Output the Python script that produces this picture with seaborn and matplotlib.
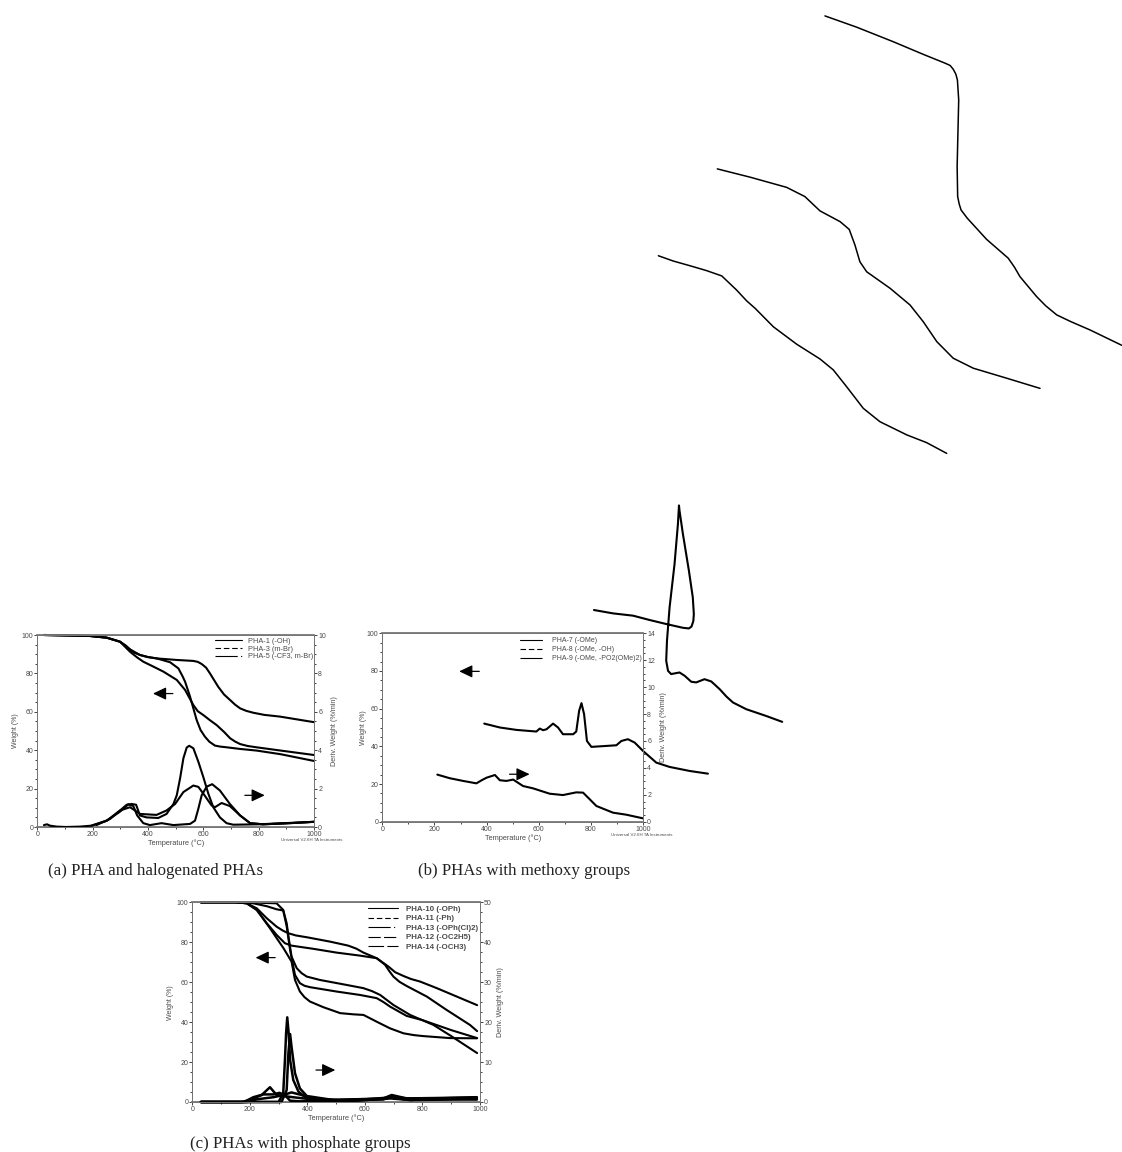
import matplotlib
matplotlib.use('Agg')
import matplotlib.pyplot as plt
from matplotlib.lines import Line2D
import seaborn as sns

# panel (a) weight curves
a1_t = [25, 100, 190, 251, 299, 320, 335, 350, 371, 400, 432, 504, 564, 580, 594, 610, 624, 654, 675, 697, 715, 733, 755, 781, 820, 877, 1000]
a1_w = [100, 99.8, 99.5, 98.6, 96.5, 94.5, 92.5, 90.8, 89.6, 88.5, 87.8, 87, 86.5, 86, 84.9, 83, 80, 73, 69, 66.1, 63.7, 61.8, 60.5, 59.5, 58.4, 57.5, 54.6]
a3_t = [25, 100, 190, 251, 299, 335, 360, 383, 420, 456, 504, 534, 564, 580, 600, 625, 648, 675, 697, 715, 733, 760, 793, 880, 1000]
a3_w = [100, 99.8, 99.5, 98.6, 96.5, 91.3, 88.4, 86.1, 83.5, 80.9, 76.6, 71.4, 63.5, 60.3, 58.3, 55.5, 53.1, 49.5, 46.2, 44.5, 43.2, 42.2, 41.5, 39.8, 37.5]
a5_t = [25, 100, 190, 251, 299, 335, 371, 400, 432, 480, 510, 525, 534, 552, 576, 590, 606, 622, 642, 660, 685, 730, 793, 880, 1000]
a5_w = [100, 99.8, 99.5, 98.6, 96.5, 92.5, 89.6, 88.5, 87.8, 85.8, 82.6, 78.5, 75.7, 67.9, 55.7, 50.5, 47, 44.4, 42.4, 41.9, 41.5, 40.7, 39.8, 37.9, 34.4]

# panel (a) derivative curves
ad1_t = [24, 35, 46, 70, 106, 154, 196, 251, 299, 311, 329, 347, 361, 383, 407, 449, 492, 552, 570, 582, 594, 612, 632, 660, 696, 733, 769, 817, 913, 1000]
ad1_d = [0.1, 0.14, 0.07, 0.02, 0, 0.02, 0.07, 0.33, 0.8, 0.95, 1.18, 1.09, 0.6, 0.2, 0.1, 0.2, 0.1, 0.16, 0.33, 0.95, 1.65, 2.1, 2.23, 1.9, 1.2, 0.6, 0.2, 0.14, 0.2, 0.27]
ad3_t = [196, 251, 299, 335, 353, 371, 431, 467, 498, 528, 564, 582, 600, 630, 642, 666, 696, 733, 769, 817, 913, 1000]
ad3_d = [0.07, 0.33, 0.86, 1.03, 0.86, 0.68, 0.63, 0.86, 1.2, 1.82, 2.16, 2.09, 1.74, 1.12, 1.03, 1.25, 1.09, 0.6, 0.2, 0.14, 0.2, 0.27]
ad5_t = [214, 263, 299, 323, 341, 357, 371, 395, 437, 467, 492, 504, 516, 528, 540, 549, 564, 582, 600, 618, 636, 660, 684, 708, 800, 1000]
ad5_d = [0.1, 0.42, 0.86, 1.16, 1.2, 1.16, 0.6, 0.5, 0.47, 0.68, 1.2, 1.65, 2.53, 3.58, 4.14, 4.23, 4.1, 3.4, 2.6, 1.74, 1.03, 0.5, 0.2, 0.12, 0.14, 0.27]

# panel (b) weight curves, they run well outside the frame
b7_t = [1698, 1820, 1960, 2075, 2159, 2178, 2190, 2200, 2206, 2211, 2208, 2205, 2207, 2213, 2220, 2244, 2318, 2401, 2425, 2446, 2510, 2545, 2587, 2640, 2715, 2836]
b7_w = [427.7, 421.7, 414.0, 407.3, 402.6, 401.4, 399.4, 396.8, 393.7, 383.1, 365.6, 347.7, 331.8, 327.8, 324.7, 320.3, 309.1, 299.1, 294.3, 289.3, 278.7, 273.8, 269.0, 265.5, 261.0, 252.9]
b8_t = [1285, 1411, 1551, 1621, 1679, 1756, 1791, 1813, 1832, 1858, 1948, 2024, 2075, 2127, 2190, 2267, 2395, 2523]
b8_w = [346.5, 342.1, 336.7, 331.8, 324.2, 318.5, 314.4, 306.1, 297.2, 291.9, 283.1, 274.3, 265.4, 254.8, 246.0, 240.7, 235.4, 230.0]
b9_t = [1059, 1116, 1180, 1244, 1302, 1359, 1398, 1430, 1500, 1590, 1679, 1730, 1781, 1845, 1909, 2012, 2088, 2165]
b9_w = [300.4, 297.6, 295.1, 292.5, 289.7, 282.2, 276.4, 272.5, 262.7, 253.4, 245.6, 239.8, 230.9, 219.4, 212.3, 205.3, 201.2, 195.5]

# panel (b) derivative curves
bd7_t = [812, 885, 962, 1025, 1089, 1153, 1176, 1186, 1193, 1195, 1191, 1176, 1153, 1140, 1138, 1134, 1121, 1102, 1092, 1089, 1096, 1108, 1140, 1160, 1185, 1204, 1236, 1262, 1294, 1320, 1345, 1396, 1472, 1534]
bd7_d = [15.73, 15.48, 15.31, 14.99, 14.69, 14.41, 14.36, 14.5, 14.9, 15.43, 16.67, 18.66, 21.39, 23.12, 23.5, 22.13, 19.15, 15.93, 13.45, 11.96, 11.21, 10.97, 11.09, 10.84, 10.4, 10.35, 10.59, 10.42, 9.85, 9.3, 8.86, 8.36, 7.86, 7.42]
bd8_t = [391, 451, 515, 591, 604, 617, 630, 655, 674, 693, 732, 744, 755, 764, 774, 785, 802, 859, 898, 917, 942, 968, 1000, 1051, 1102, 1179, 1249]
bd8_d = [7.29, 7.0, 6.82, 6.7, 6.92, 6.8, 6.87, 7.29, 7.0, 6.5, 6.5, 6.7, 8.24, 8.81, 7.99, 6.0, 5.56, 5.63, 5.68, 6.0, 6.13, 5.88, 5.26, 4.39, 4.07, 3.77, 3.57]
bd9_t = [211, 259, 310, 361, 381, 400, 432, 451, 476, 502, 540, 578, 642, 693, 744, 770, 796, 821, 885, 936, 1000]
bd9_d = [3.5, 3.23, 3.03, 2.85, 3.08, 3.27, 3.47, 3.08, 3.03, 3.13, 2.65, 2.48, 2.08, 1.98, 2.18, 2.16, 1.66, 1.17, 0.67, 0.52, 0.25]

# panel (c) weight curves
c10_t = [30, 150, 189, 224, 259, 293, 315, 334, 360, 398, 479, 542, 570, 595, 641, 682, 705, 734, 760, 792, 850, 990]
c10_w = [100, 100, 99.5, 97, 92, 87.8, 85.8, 84.5, 83.4, 82.5, 80.3, 78.3, 76.8, 74.8, 72, 67.8, 65, 63.1, 61.6, 60.3, 57, 48.5]
c11_t = [30, 150, 189, 224, 259, 293, 322, 345, 421, 502, 583, 641, 670, 685, 699, 720, 745, 815, 884, 965, 990]
c11_w = [100, 100, 99.5, 96.2, 89.5, 83.7, 79.5, 78.3, 76.7, 74.8, 73.3, 72, 68.7, 65.5, 62.8, 60.2, 58.1, 52.8, 46.1, 38.6, 35.5]
c13_t = [30, 200, 247, 293, 316, 328, 336, 345, 363, 380, 398, 444, 537, 595, 625, 653, 699, 757, 838, 900, 990]
c13_w = [100, 100, 99.7, 99.5, 96.2, 89.5, 81.2, 72.8, 67, 64.5, 62.8, 61.1, 58.6, 57, 55.5, 53.6, 48.6, 43.6, 38.6, 33, 24.5]
c12_t = [30, 150, 212, 260, 293, 316, 328, 340, 357, 374, 390, 409, 502, 583, 641, 665, 687, 745, 800, 900, 990]
c12_w = [100, 100, 99.5, 98, 96.5, 95.9, 88, 76, 63.6, 59.5, 58.2, 57.5, 55.3, 53.6, 52, 50, 47.8, 43.1, 41, 36, 32]
c14_t = [30, 150, 189, 224, 270, 317, 345, 357, 374, 390, 409, 455, 514, 560, 595, 641, 687, 734, 770, 803, 896, 989]
c14_w = [100, 100, 99.5, 96.2, 87, 77, 70.3, 61.1, 55.3, 52.5, 50.3, 47.5, 44.5, 43.9, 43.6, 40.2, 36.9, 34.4, 33.5, 33, 32, 31.9]

# panel (c) derivative curves
cd10_t = [30, 172, 200, 241, 270, 293, 316, 350, 398, 537, 664, 693, 757, 850, 989]
cd10_d = [0, 0, 0.5, 1.75, 3.7, 1.75, 1.5, 1.2, 0.8, 0.33, 0.7, 1.5, 0.5, 0.9, 1.1]
cd11_t = [30, 180, 212, 247, 282, 303, 322, 340, 374, 571, 687, 757, 989]
cd11_d = [0, 0, 1.2, 1.9, 1.9, 2.3, 1.7, 0.33, 0.17, 0.33, 0.9, 0.5, 0.67]
cd13_t = [30, 300, 316, 322, 326, 330, 335, 340, 351, 369, 398, 479, 571, 664, 693, 734, 850, 989]
cd13_d = [0, 0, 2.2, 10.5, 17.2, 21.2, 17.2, 10.5, 5.5, 2.6, 0.9, 0.33, 0.67, 0.67, 1.17, 0.67, 0.9, 0.67]
cd12_t = [30, 310, 328, 334, 340, 345, 357, 374, 398, 490, 664, 693, 745, 850, 989]
cd12_d = [0, 0, 3, 12.2, 17, 13.8, 7.2, 3.4, 1.5, 0.5, 0.9, 1.75, 0.9, 1, 1.2]
cd14_t = [30, 190, 224, 282, 316, 345, 380, 421, 571, 693, 803, 989]
cd14_d = [0, 0, 0.67, 1.2, 1.75, 2.4, 1.75, 0.67, 0.5, 1.17, 0.67, 0.83]

a_labels = ['PHA-1 (-OH)', 'PHA-3 (m-Br)', 'PHA-5 (-CF3, m-Br)']
b_labels = ['PHA-7 (-OMe)', 'PHA-8 (-OMe, -OH)', 'PHA-9 (-OMe, -PO2(OMe)2)']
c_labels = ['PHA-10 (-OPh)', 'PHA-11 (-Ph)', 'PHA-13 (-OPh(Cl)2)', 'PHA-12 (-OC2H5)', 'PHA-14 (-OCH3)']
captions = ['(a) PHA and halogenated PHAs', '(b) PHAs with methoxy groups', '(c) PHAs with phosphate groups']
styles = ['-', (0, (5, 2.5)), (0, (20, 3, 1, 40)), (0, (11, 3)), (0, (14, 3))]
TEXT = '#4a4a4a'

sns.set_style('white')
plt.rcParams['font.family'] = ['Liberation Sans', 'DejaVu Sans']

W_PX, H_PX = 1122, 1152
fig = plt.figure(figsize=(W_PX / 100, H_PX / 100), dpi=100)


def make_panel(box, d_max, d_step, pad_x=0.5, pad_w=2.5):
    left, top, right, bottom = box
    ax = fig.add_axes([left / W_PX, 1 - bottom / H_PX, (right - left) / W_PX, (bottom - top) / H_PX])
    ax2 = ax.twinx()
    ax.patch.set_alpha(0)
    for a in (ax, ax2):
        a.set_xlim(0, 1000)
        a.set_autoscale_on(False)
        for s in a.spines.values():
            s.set_linewidth(0.7)
            s.set_color('#777777')
    ax.spines['left'].set_color('black')
    ax.spines['top'].set_linewidth(1.3)
    ax.spines['bottom'].set_linewidth(1.3)
    ax.set_ylim(0, 100)
    ax2.set_ylim(0, d_max)
    ax.set_xticks(range(0, 1001, 200))
    ax.set_xticks(range(0, 1001, 100), minor=True)
    ax.set_yticks(range(0, 101, 20))
    ax.set_yticks(range(0, 101, 5), minor=True)
    ax2.set_yticks(range(0, d_max + 1, d_step))
    ax2.set_yticks([v * d_step / 4 for v in range(0, int(d_max * 4 / d_step) + 1)], minor=True)
    for a in (ax, ax2):
        a.tick_params(which='major', length=2.2, width=0.6, labelsize=5, pad=0.8, labelcolor=TEXT, color='#222222',
                      bottom=True, left=(a is ax), right=(a is ax2))
        a.tick_params(which='minor', length=1.2, width=0.6, color='#222222',
                      bottom=True, left=(a is ax), right=(a is ax2))
    ax.set_xlabel('Temperature (°C)', fontsize=5.3, color=TEXT, labelpad=pad_x)
    ax.set_ylabel('Weight (%)', fontsize=5, color=TEXT, labelpad=pad_w)
    ax2.set_ylabel('Deriv. Weight (%/min)', fontsize=5.2, color=TEXT, labelpad=3.5)
    return ax, ax2


def draw(ax, t, v, lw=1.5):
    sns.lineplot(x=t, y=v, ax=ax, color='black', lw=lw, sort=False, estimator=None, clip_on=False, legend=False,
                 solid_joinstyle='round')


def arrow(ax, x_from, x_to, y):
    ax.annotate('', xy=(x_to, y), xytext=(x_from, y),
                arrowprops=dict(arrowstyle='-|>,head_length=0.8,head_width=0.38', lw=0.9, color='black',
                                shrinkA=0, shrinkB=0))


def legend(ax, labels, anchor, size, length, gap, spacing, bold=False):
    handles = [Line2D([], [], color='black', lw=0.8, linestyle=styles[i]) for i in range(len(labels))]
    ax.legend(handles, labels, loc='upper right', bbox_to_anchor=anchor, frameon=False, handlelength=length,
              handletextpad=gap, labelspacing=spacing, borderaxespad=0, borderpad=0,
              prop={'size': size, 'weight': 'bold' if bold else 'normal'}, labelcolor=TEXT)


# (a)
ax, ax2 = make_panel((37.3, 635, 314, 827), 10, 2, pad_w=1.5)
for t, w in [(a1_t, a1_w), (a3_t, a3_w), (a5_t, a5_w)]:
    draw(ax, t, w)
for t, d in [(ad1_t, ad1_d), (ad3_t, ad3_d), (ad5_t, ad5_d)]:
    draw(ax2, t, d)
arrow(ax, 490, 418, 69.5)
arrow(ax, 750, 822, 16.5)
legend(ax, a_labels, (0.9985, 0.985), 5.3, 3.7, 0.8, 0.07)
ax.text(0.993, -0.068, 'Universal V2.6H TA Instruments', transform=ax.transAxes, ha='center', va='center', fontsize=3.2, color=TEXT)

# (b)
ax, ax2 = make_panel((382.3, 633.3, 643, 821.7), 14, 2, pad_x=1, pad_w=0)
for t, w in [(b7_t, b7_w), (b8_t, b8_w), (b9_t, b9_w)]:
    draw(ax, t, w, lw=1.1)
for t, d in [(bd7_t, bd7_d), (bd8_t, bd8_d), (bd9_t, bd9_d)]:
    draw(ax2, t, d)
arrow(ax, 372, 295, 79.8)
arrow(ax, 488, 565, 25.2)
legend(ax, b_labels, (0.995, 0.978), 5.0, 3.2, 1.44, 0.27)
ax.text(0.994, -0.07, 'Universal V2.6H TA Instruments', transform=ax.transAxes, ha='center', va='center', fontsize=3.2, color=TEXT)

# (c)
ax, ax2 = make_panel((192.3, 902.3, 480, 1102), 50, 10, pad_x=0.5, pad_w=2)
for t, w in [(c10_t, c10_w), (c11_t, c11_w), (c13_t, c13_w), (c12_t, c12_w), (c14_t, c14_w)]:
    draw(ax, t, w)
for t, d in [(cd10_t, cd10_d), (cd11_t, cd11_d), (cd13_t, cd13_d), (cd12_t, cd12_d), (cd14_t, cd14_d)]:
    draw(ax2, t, d, lw=1.8)
arrow(ax, 288, 220, 72.3)
arrow(ax, 430, 497, 16)
legend(ax, c_labels, (0.995, 0.985), 5.7, 3.7, 1.1, 0.25, bold=True)

# captions under each panel
for x_px, y_px, text in [(48, 871, captions[0]), (418, 871, captions[1]), (190, 1144, captions[2])]:
    fig.text(x_px / W_PX, 1 - y_px / H_PX, text, family='Liberation Serif', fontsize=12.2, color='#222222', va='center')

fig.savefig('out.png', dpi=100, facecolor='white')
